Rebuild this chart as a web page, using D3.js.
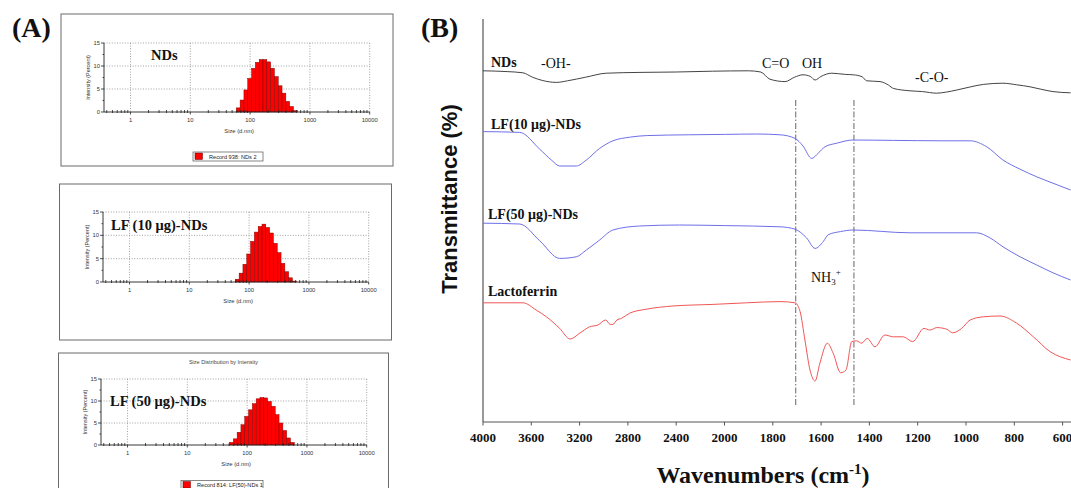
<!DOCTYPE html>
<html>
<head>
<meta charset="utf-8">
<script src="https://cdnjs.cloudflare.com/ajax/libs/d3/7.8.5/d3.min.js"></script>
<style>
  html, body { margin: 0; padding: 0; background: #fff; }
  svg { display: block; }
</style>
</head>
<body>
<script>
// ---- (A) DLS size distributions (Zetasizer bins, d.nm) ----
var dlsSizes = [50.75, 58.77, 68.06, 78.82, 91.28, 105.7, 122.4, 141.8, 164.2, 190.1, 220.2,
    255.0, 295.3, 342.0, 396.1, 458.7, 531.2, 615.1, 712.4];
var ndsIntensity = [0, 0.9, 2.6, 4.8, 7.3, 9.5, 10.8, 11.4, 11.4, 10.9, 9.5, 7.7, 5.7, 4.1, 2.3, 1.2, 0.3, 0];
var lf10Intensity = [0, 0.6, 1.9, 3.8, 6.0, 8.7, 10.7, 11.9, 12.4, 11.7, 10.5, 8.3, 6.3, 4.0, 2.2, 0.9, 0.2, 0];
var lf50Intensity = [0.6, 1.4, 2.9, 4.6, 6.5, 8.0, 9.4, 10.5, 10.8, 10.7, 9.9, 8.8, 6.9, 5.0, 3.3, 1.6, 0.6, 0];
var dlsSizeTicks = [1, 10, 100, 1000, 10000];
var dlsIntensityTicks = [0, 5, 10, 15];

// ---- (B) FTIR spectra: [wavenumber, transmittance] (curves are offset) ----
var ndsSpectrum = [[4000, 87.8], [3800, 87.6], [3669, 87.3], [3590, 86.2], [3510, 85.4], [3392, 84.9],
    [3300, 85.3], [3150, 86.2], [2979, 87.2], [2700, 87.4], [2400, 87.5], [2100, 87.7], [1900, 87.8],
    [1850, 87.5], [1812, 85.7], [1749, 85.1], [1710, 86.2], [1675, 86.8], [1645, 86.4], [1625, 85.5],
    [1600, 86.4], [1556, 87.2], [1500, 86.9], [1467, 86.8], [1430, 86.3], [1411, 85.3], [1356, 85.1],
    [1320, 84.2], [1301, 83.4], [1232, 82.8], [1180, 82.6], [1121, 82.2], [1080, 82.5], [1038, 83.0],
    [980, 83.8], [928, 84.4], [847, 84.7], [790, 84.3], [735, 83.8], [690, 83.2], [640, 82.6], [567, 82.3]];
var lf10Spectrum = [[4000, 72.6], [3696, 72.4], [3530, 68.2], [3430, 65.4], [3365, 64.0], [3228, 64.0],
    [3144, 65.5], [3034, 68.4], [2924, 70.3], [2785, 71.2], [2647, 71.6], [2300, 71.8], [2000, 71.9],
    [1867, 72.0], [1770, 71.8], [1708, 70.9], [1675, 69.0], [1639, 65.9], [1612, 67.2], [1584, 68.8],
    [1535, 69.7], [1467, 70.5], [1300, 70.4], [1100, 70.3], [983, 70.3], [914, 68.8], [847, 65.5],
    [776, 63.2], [707, 61.3], [640, 59.7], [567, 58.0]];
var lf50Spectrum = [[4000, 49.7], [3696, 49.5], [3530, 45.3], [3365, 40.9], [3228, 41.3], [3144, 43.0],
    [3034, 45.5], [2924, 48.0], [2703, 49.0], [2372, 49.25], [2000, 49.1], [1770, 48.8], [1708, 48.2],
    [1660, 46.0], [1625, 43.4], [1590, 45.2], [1571, 46.8], [1520, 47.6], [1467, 48.0], [1232, 47.3],
    [956, 47.3], [900, 46.0], [847, 43.8], [776, 41.3], [707, 39.25], [640, 37.3], [567, 35.5]];
var lactoferrinSpectrum = [[4000, 29.8], [3669, 29.8], [3560, 28.0], [3475, 26.3], [3365, 23.4],
    [3278, 20.75], [3199, 22.2], [3117, 23.8], [3048, 24.25], [2984, 25.5], [2946, 24.4], [2924, 24.4],
    [2891, 25.5], [2854, 25.9], [2785, 27.2], [2647, 28.2], [2427, 29.0], [2096, 29.4], [1908, 29.8],
    [1770, 30.1], [1708, 29.8], [1687, 27.6], [1667, 20.5], [1646, 13.0], [1625, 10.25], [1605, 14.7],
    [1574, 19.7], [1550, 17.2], [1519, 12.3], [1497, 13.0], [1473, 20.1], [1453, 20.3], [1432, 19.7],
    [1409, 20.9], [1377, 18.8], [1336, 21.75], [1301, 21.3], [1260, 21.3], [1221, 20.1], [1174, 23.4],
    [1149, 23.0], [1121, 23.6], [1080, 23.2], [1055, 22.3], [1018, 23.4], [983, 25.5], [928, 26.3],
    [859, 26.5], [790, 24.7], [721, 21.3], [652, 17.6], [567, 15.5]];
var ftirTicks = [4000, 3600, 3200, 2800, 2400, 2000, 1800, 1600, 1400, 1200, 1000, 800, 600];
var nh3Lines = [1705, 1464];

var SERIF = '"Liberation Serif", "Times New Roman", serif';
var SANS = '"Liberation Sans", Arial, sans-serif';
var W = 1071, H = 488;

var svg = d3.select('body').append('svg').attr('width', W).attr('height', H);
svg.append('rect').attr('width', W).attr('height', H).attr('fill', '#fff');

// layout of the three exported Zetasizer plots
var dlsPanels = [
    { box: [61, 14, 332, 152], left: 104, top: 43, bottom: 112, data: ndsIntensity,
      label: 'NDs', labelPos: [151, 60], legend: 'Record 938: NDs 2', legendBox: [193, 152, 70, 9] },
    { box: [59.5, 184, 332, 156], left: 103, top: 212, bottom: 282, data: lf10Intensity,
      label: 'LF (10 μg)-NDs', labelPos: [111, 230] },
    { box: [58.5, 353, 330, 140], left: 101, top: 379, bottom: 445, data: lf50Intensity,
      label: 'LF (50 μg)-NDs', labelPos: [110, 406], title: 'Size Distribution by Intensity',
      legend: 'Record 814: LF(50)-NDs 1', legendBox: [181, 480.5, 82, 9] }
];

function drawDls(p) {
    var g = svg.append('g');
    var x = d3.scaleLog().domain([0.36, 10000]).range([p.left, p.left + 265.7]);
    var y = d3.scaleLinear().domain([0, 15]).range([p.bottom, p.top]);
    var right = x(10000);

    g.append('rect').
        attr('x', p.box[0]).attr('y', p.box[1]).attr('width', p.box[2]).attr('height', p.box[3]).
        attr('fill', 'none').attr('stroke', '#6a6a6a').attr('stroke-width', 1);

    if (p.title) {
        g.append('text').attr('x', (p.box[0] + p.box[0] + p.box[2]) / 2).attr('y', p.top - 15).
            attr('text-anchor', 'middle').attr('font-family', SANS).attr('font-size', 5.5).
            attr('fill', '#444').text(p.title);
    }

    // dotted grid
    g.selectAll('.vgrid').data(dlsSizeTicks).enter().append('line').
        attr('x1', function (d) { return x(d); }).attr('x2', function (d) { return x(d); }).
        attr('y1', p.top).attr('y2', p.bottom).
        attr('stroke', '#8a8a8a').attr('stroke-width', 0.8).attr('stroke-dasharray', '1,1.6');
    g.selectAll('.hgrid').data(dlsIntensityTicks.slice(1)).enter().append('line').
        attr('x1', p.left).attr('x2', right).
        attr('y1', function (d) { return y(d); }).attr('y2', function (d) { return y(d); }).
        attr('stroke', '#8a8a8a').attr('stroke-width', 0.8).attr('stroke-dasharray', '1,1.6');

    // bars
    var bars = p.data.map(function (v, i) { return { v: v, s0: dlsSizes[i], s1: dlsSizes[i + 1] }; }).
        filter(function (d) { return d.v > 0; });
    g.selectAll('.bar').data(bars).enter().append('rect').
        attr('x', function (d) { return x(d.s0); }).
        attr('width', function (d) { return x(d.s1) - x(d.s0); }).
        attr('y', function (d) { return y(d.v); }).
        attr('height', function (d) { return y(0) - y(d.v); }).
        attr('fill', '#ff0000').attr('stroke', '#7a0000').attr('stroke-width', 0.45);

    // axes
    g.append('line').attr('x1', p.left).attr('x2', right).attr('y1', p.bottom).attr('y2', p.bottom).
        attr('stroke', '#222').attr('stroke-width', 0.9);
    g.append('line').attr('x1', p.left).attr('x2', p.left).attr('y1', p.bottom).attr('y2', p.top).
        attr('stroke', '#222').attr('stroke-width', 0.9);

    var minor = [];
    [0.1, 1, 10, 100, 1000].forEach(function (dec) {
        for (var k = 2; k <= 9; k++) {
            var v = k * dec;
            if (v >= 0.4 && v < 10000) minor.push(v);
        }
    });
    g.selectAll('.xminor').data(minor).enter().append('line').
        attr('x1', function (d) { return x(d); }).attr('x2', function (d) { return x(d); }).
        attr('y1', p.bottom - 2).attr('y2', p.bottom + 1).attr('stroke', '#222').attr('stroke-width', 0.8);
    g.selectAll('.xmajor').data(dlsSizeTicks).enter().append('line').
        attr('x1', function (d) { return x(d); }).attr('x2', function (d) { return x(d); }).
        attr('y1', p.bottom).attr('y2', p.bottom + 2.5).attr('stroke', '#222').attr('stroke-width', 0.8);
    g.selectAll('.ytick').data([0, 2.5, 5, 7.5, 10, 12.5, 15]).enter().append('line').
        attr('x1', function (d) { return d % 5 === 0 ? p.left - 3 : p.left - 1.5; }).attr('x2', p.left).
        attr('y1', function (d) { return y(d); }).attr('y2', function (d) { return y(d); }).
        attr('stroke', '#222').attr('stroke-width', 0.8);

    g.selectAll('.xlab').data(dlsSizeTicks).enter().append('text').
        attr('x', function (d) { return x(d); }).attr('y', p.bottom + 9.5).
        attr('text-anchor', 'middle').attr('font-family', SANS).attr('font-size', 5.8).attr('fill', '#333').
        text(function (d) { return d; });
    g.selectAll('.ylab').data(dlsIntensityTicks).enter().append('text').
        attr('x', p.left - 4).attr('y', function (d) { return y(d) + 2; }).
        attr('text-anchor', 'end').attr('font-family', SANS).attr('font-size', 5.8).attr('fill', '#333').
        text(function (d) { return d; });

    g.append('text').attr('x', x(100) - 11).attr('y', p.bottom + 21).
        attr('text-anchor', 'middle').attr('font-family', SANS).attr('font-size', 5.8).attr('fill', '#333').
        text('Size (d.nm)');
    g.append('text').
        attr('transform', 'translate(' + (p.left - 14) + ',' + ((p.top + p.bottom) / 2) + ')rotate(-90)').
        attr('text-anchor', 'middle').attr('font-family', SANS).attr('font-size', 5.5).attr('fill', '#333').
        text('Intensity (Percent)');

    g.append('text').attr('x', p.labelPos[0]).attr('y', p.labelPos[1]).
        attr('font-family', SERIF).attr('font-weight', 'bold').attr('font-size', 14.5).attr('fill', '#111').
        text(p.label);

    if (p.legend) {
        var lb = p.legendBox;
        g.append('rect').attr('x', lb[0]).attr('y', lb[1]).attr('width', lb[2]).attr('height', lb[3]).
            attr('fill', '#fff').attr('stroke', '#555').attr('stroke-width', 0.7);
        g.append('rect').attr('x', lb[0] + 2).attr('y', lb[1] + 1).attr('width', 7.5).attr('height', 6.5).
            attr('fill', '#ff0000').attr('stroke', '#600').attr('stroke-width', 0.5);
        g.append('text').attr('x', lb[0] + 16).attr('y', lb[1] + 6.5).
            attr('font-family', SANS).attr('font-size', 5.6).attr('fill', '#222').text(p.legend);
    }
}

dlsPanels.forEach(drawDls);

svg.append('text').attr('x', 12).attr('y', 37).attr('font-family', SERIF).attr('font-weight', 'bold').
    attr('font-size', 28).attr('fill', '#111').text('(A)');

// ---- (B) FTIR ----
var fx = d3.scaleLinear().domain([4000, 2000, 600]).range([483, 724.5, 1062.6]);
var fy = d3.scaleLinear().domain([0, 100]).range([422, 22]);
var gB = svg.append('g');

gB.append('line').attr('x1', 483).attr('x2', 483).attr('y1', 19).attr('y2', 422).
    attr('stroke', '#777').attr('stroke-width', 1.5);
gB.append('line').attr('x1', 483).attr('x2', W).attr('y1', 422).attr('y2', 422).
    attr('stroke', '#555').attr('stroke-width', 1);
gB.selectAll('.ftick').data(ftirTicks).enter().append('line').
    attr('x1', function (d) { return fx(d); }).attr('x2', function (d) { return fx(d); }).
    attr('y1', 422).attr('y2', 425.5).attr('stroke', '#555').attr('stroke-width', 1);
gB.selectAll('.flab').data(ftirTicks).enter().append('text').
    attr('x', function (d) { return fx(d); }).attr('y', 441.5).attr('text-anchor', 'middle').
    attr('font-family', SERIF).attr('font-weight', 'bold').attr('font-size', 13).attr('fill', '#111').
    text(function (d) { return d; });

// NH3+ band guides
gB.selectAll('.guide').data(nh3Lines).enter().append('line').
    attr('x1', function (d) { return fx(d); }).attr('x2', function (d) { return fx(d); }).
    attr('y1', fy(80.5)).attr('y2', fy(3.8)).
    attr('stroke', '#666').attr('stroke-width', 1).attr('stroke-dasharray', '6,2,1.5,2');

var line = d3.line().
    x(function (d) { return fx(d[0]); }).
    y(function (d) { return fy(d[1]); }).
    curve(d3.curveMonotoneX);
var spectra = [
    { data: ndsSpectrum, color: '#444' },
    { data: lf10Spectrum, color: '#6f6fe8' },
    { data: lf50Spectrum, color: '#6f6fe8' },
    { data: lactoferrinSpectrum, color: '#f05656' }
];
gB.selectAll('.spec').data(spectra).enter().append('path').
    attr('d', function (d) { return line(d.data); }).
    attr('fill', 'none').attr('stroke', function (d) { return d.color; }).attr('stroke-width', 1);

// series labels
var seriesLabels = [['NDs', 491, 67], ['LF(10 μg)-NDs', 491, 129], ['LF(50 μg)-NDs', 488, 218.5], ['Lactoferrin', 488, 296]];
gB.selectAll('.slab').data(seriesLabels).enter().append('text').
    attr('x', function (d) { return d[1]; }).attr('y', function (d) { return d[2]; }).
    attr('font-family', SERIF).attr('font-weight', 'bold').attr('font-size', 14).attr('fill', '#111').
    text(function (d) { return d[0]; });

// band annotations
var bandLabels = [['-OH-', 541, 68], ['C=O', 762, 68], ['OH', 802, 68], ['-C-O-', 915, 81.5]];
gB.selectAll('.blab').data(bandLabels).enter().append('text').
    attr('x', function (d) { return d[1]; }).attr('y', function (d) { return d[2]; }).
    attr('font-family', SERIF).attr('font-size', 14).attr('fill', '#111').
    text(function (d) { return d[0]; });
var nh3 = gB.append('text').attr('x', 811).attr('y', 281.5).
    attr('font-family', SERIF).attr('font-size', 14).attr('fill', '#111');
nh3.append('tspan').text('NH');
nh3.append('tspan').attr('font-size', 9).attr('dy', 3).text('3');
nh3.append('tspan').attr('font-size', 9).attr('dy', -10).text('+');

svg.append('text').attr('x', 421).attr('y', 37).attr('font-family', SERIF).attr('font-weight', 'bold').
    attr('font-size', 28).attr('fill', '#111').text('(B)');

var xt = svg.append('text').attr('x', 763).attr('y', 483).attr('text-anchor', 'middle').
    attr('font-family', SERIF).attr('font-weight', 'bold').attr('font-size', 24).attr('fill', '#111');
xt.append('tspan').text('Wavenumbers (cm');
xt.append('tspan').attr('font-size', 15).attr('dy', -9).text('-1');
xt.append('tspan').attr('dy', 9).text(')');

svg.append('text').attr('transform', 'translate(457,199)rotate(-90)').attr('text-anchor', 'middle').
    attr('font-family', SANS).attr('font-weight', 'bold').attr('font-size', 22).attr('fill', '#111').
    text('Transmittance (%)');
</script>
</body>
</html>
